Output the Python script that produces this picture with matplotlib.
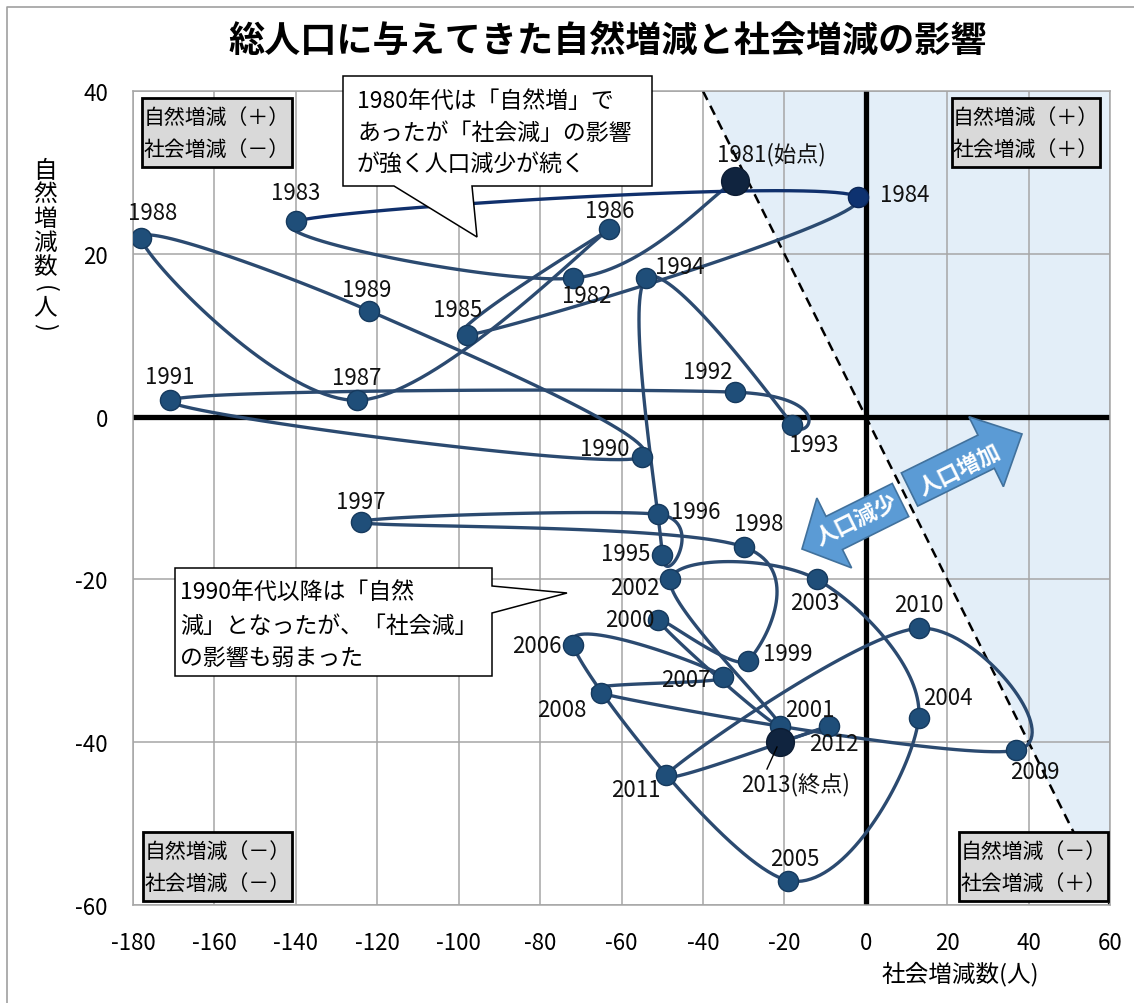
import numpy as np
import matplotlib
matplotlib.use("Agg")
import matplotlib.pyplot as plt
from matplotlib.transforms import Affine2D
from matplotlib.patches import Polygon, Rectangle
from matplotlib.lines import Line2D

plt.rcParams['font.family'] = ['Noto Sans CJK JP', 'DejaVu Sans']
plt.rcParams['axes.unicode_minus'] = False

# ---------------- data ----------------
years = list(range(1981, 2014))
social = [-32, -72, -140, -2, -98, -63, -125, -178, -122, -55, -171, -32, -18,
          -54, -50, -51, -124, -30, -29, -51, -21, -48, -12, 13, -19, -72, -35,
          -65, 37, 13, -49, -9, -21]
natural = [29, 17, 24, 27, 10, 23, 2, 22, 13, -5, 2, 3, -1, 17, -17, -12, -13,
           -16, -30, -25, -38, -20, -20, -37, -57, -28, -32, -34, -41, -26, -44,
           -38, -40]
labels = [str(y) for y in years]
labels[0] = '1981(始点)'
labels[-1] = '2013(終点)'

xticks = list(range(-180, 61, 20))
yticks = list(range(-60, 41, 20))

# label offsets in screen pixels (dx right, dy down) - styling only
label_off = {
    1981: (36, -27), 1982: (14, 17), 1983: (0, -29), 1984: (47, -2),
    1985: (-9, -26), 1986: (0, -19), 1987: (0, -23), 1988: (11, -25),
    1989: (-2, -21), 1990: (-37, -9), 1991: (0, -24), 1992: (-28, -21),
    1993: (21, 20), 1994: (34, -12), 1995: (-37, -1), 1996: (38, -3),
    1997: (0, -21), 1998: (15, -23), 1999: (40, -7), 2000: (-28, -1),
    2001: (30, -16), 2002: (-36, 8), 2003: (-2, 23), 2004: (29, -20),
    2005: (6, -22), 2006: (-36, 1), 2007: (-37, 2), 2008: (-39, 16),
    2009: (18, 21), 2010: (0, -24), 2011: (-30, 15), 2012: (5, 18),
    2013: (15, 41),
}

W, H = 1134, 1004
fig = plt.figure(figsize=(W / 100, H / 100), dpi=100)
pxT = Affine2D().scale(1 / 100., -1 / 100.).translate(0, H / 100.) + fig.dpi_scale_trans

ax = fig.add_axes([133 / W, 1 - 906 / H, 977 / W, 814 / H])
ax.set_xlim(-180, 60)
ax.set_ylim(-60, 40)
ax.set_xticks(xticks)
ax.set_yticks(yticks)
ax.set_xticklabels([str(v) for v in xticks])
ax.set_yticklabels([str(v) for v in yticks])
ax.tick_params(axis='both', length=0, labelsize=16)
ax.tick_params(axis='x', pad=19)
ax.tick_params(axis='y', pad=18)
ax.set_axisbelow(True)
ax.grid(True, color='#a6a6a6', lw=1.1)
for s in ax.spines.values():
    s.set_color('#a6a6a6')
    s.set_linewidth(1.1)

# shaded region (population increase: x + y > 0)
ax.add_patch(Polygon([(-40, 40), (60, 40), (60, -60)], closed=True,
                     facecolor='#e3eef8', edgecolor='none', zorder=0.2))
# zero lines
ax.axhline(0, color='black', lw=3.8, zorder=2)
ax.axvline(0, color='black', lw=3.8, zorder=2)
# dashed break-even line
xd = np.array([-40, 60])
ax.plot(xd, -xd, color='black', lw=1.8, ls=(0, (4, 2.6)), zorder=2.5)


# ---------------- smoothed line (Catmull-Rom / Bezier) ----------------
def bezier_segments(xs, ys, n=40):
    P = np.column_stack([xs, ys]).astype(float)
    E = np.vstack([P[0], P, P[-1]])
    segs = []
    t = np.linspace(0, 1, n)[:, None]
    for i in range(len(P) - 1):
        p0, p1, p2, p3 = E[i], E[i + 1], E[i + 2], E[i + 3]
        c1 = p1 + (p2 - p0) / 6.0
        c2 = p2 - (p3 - p1) / 6.0
        B = ((1 - t) ** 3) * p1 + 3 * ((1 - t) ** 2) * t * c1 + 3 * (1 - t) * t ** 2 * c2 + t ** 3 * p2
        segs.append(B)
    return segs


segs = bezier_segments(social, natural)
for i, B in enumerate(segs):
    col = '#10306c' if years[i] == 1983 else '#2b4a70'
    ax.plot(B[:, 0], B[:, 1], color=col, lw=2.4, solid_capstyle='round', zorder=3)

for i, (x, y) in enumerate(zip(social, natural)):
    yr = years[i]
    if yr in (1981, 2013):
        ax.plot(x, y, 'o', ms=20, mfc='#10243f', mec='#0c1c33', mew=1, zorder=4)
    elif yr == 1984:
        ax.plot(x, y, 'o', ms=14.5, mfc='#0e3270', mec='#0b2658', mew=1, zorder=4)
    else:
        ax.plot(x, y, 'o', ms=14.5, mfc='#1f4e79', mec='#163a5e', mew=1, zorder=4)
    dx, dy = label_off[yr]
    ax.annotate(labels[i], (x, y), xytext=(dx * 0.72, -dy * 0.72),
                textcoords='offset points', ha='center', va='center',
                fontsize=16, color='#111111', zorder=5)

# leader line for 2013
fig.add_artist(Line2D([767, 777], [770, 748], transform=pxT, color='black', lw=1, zorder=6))

# ---------------- title and axis labels ----------------
fig.text(608, 42, '総人口に与えてきた自然増減と社会増減の影響', transform=pxT,
         ha='center', va='center', fontsize=26, fontweight='bold')
fig.text(960, 974, '社会増減数(人)', transform=pxT, ha='center', va='center', fontsize=17)
ylab_chars = ['自', '然', '増', '減', '数', '(', '人', ')']
ylab_pos = [171, 194, 219, 243, 268, 289, 308, 327]
for ch, yp in zip(ylab_chars, ylab_pos):
    rot = -90 if ch in '()' else 0
    fig.text(45, yp, ch, transform=pxT, ha='center', va='center', fontsize=17, rotation=rot)

# figure frame (left & top)
fig.add_artist(Line2D([7, 7, W + 5], [H + 5, 8, 8], transform=pxT, color='#a0a0a0', lw=1.2, zorder=0))


# ---------------- quadrant boxes ----------------
def quad_box(x0, y0, x1, y1, l1, l2):
    fig.add_artist(Rectangle((x0, y0), x1 - x0, y1 - y0, transform=pxT,
                             facecolor='#d9d9d9', edgecolor='black', lw=2, zorder=10))
    cx = (x0 + x1) / 2
    fig.text(cx, y0 + (y1 - y0) * 0.28, l1, transform=pxT, ha='center', va='center',
             fontsize=15, zorder=11)
    fig.text(cx, y0 + (y1 - y0) * 0.74, l2, transform=pxT, ha='center', va='center',
             fontsize=15, zorder=11)


quad_box(142, 99, 292, 168, '自然増減（＋）', '社会増減（－）')
quad_box(952, 99, 1100, 168, '自然増減（＋）', '社会増減（＋）')
quad_box(143, 833, 292, 902, '自然増減（－）', '社会増減（－）')
quad_box(959, 833, 1108, 902, '自然増減（－）', '社会増減（＋）')

# ---------------- callouts ----------------
call1 = [(343, 77), (652, 77), (652, 187), (472, 187), (477, 238), (394, 187), (343, 187)]
fig.add_artist(Polygon(call1, closed=True, transform=pxT, facecolor='white',
                       edgecolor='black', lw=1.1, zorder=10))
for txt, yp in zip(['1980年代は「自然増」で', 'あったが「社会減」の影響', 'が強く人口減少が続く'],
                   [101, 133, 164]):
    fig.text(357, yp, txt, transform=pxT, ha='left', va='center', fontsize=16.5, zorder=11)

call2 = [(175, 569), (492, 569), (492, 587), (567, 594), (492, 614), (492, 677), (175, 677)]
fig.add_artist(Polygon(call2, closed=True, transform=pxT, facecolor='white',
                       edgecolor='black', lw=1.1, zorder=10))
for txt, yp in zip(['1990年代以降は「自然', '減」となったが、「社会減」', 'の影響も弱まった'],
                   [592, 626, 658]):
    fig.text(180, yp, txt, transform=pxT, ha='left', va='center', fontsize=16.5, zorder=11)


# ---------------- block arrows ----------------
def block_arrow(tail, tip, w, hw, hl):
    t = np.array(tail, float)
    p = np.array(tip, float)
    d = (p - t) / np.linalg.norm(p - t)
    n = np.array([-d[1], d[0]])
    b = p - d * hl
    pts = [t + n * w, b + n * w, b + n * hw, p, b - n * hw, b - n * w, t - n * w]
    fig.add_artist(Polygon(pts, closed=True, transform=pxT, facecolor='#5b9bd5',
                           edgecolor='#41719c', lw=1.2, zorder=12))


block_arrow((909.5, 490.5), (1022, 435), 18.5, 39, 40)
block_arrow((900.5, 501), (802, 550), 18.5, 39, 36)
fig.text(959, 470, '人口増加', transform=pxT, ha='center', va='center', rotation=26.3,
         rotation_mode='anchor', fontsize=16, fontweight='bold', color='white', zorder=13)
fig.text(857, 521, '人口減少', transform=pxT, ha='center', va='center', rotation=26.3,
         rotation_mode='anchor', fontsize=16, fontweight='bold', color='white', zorder=13)

fig.savefig('out.png', dpi=100)
